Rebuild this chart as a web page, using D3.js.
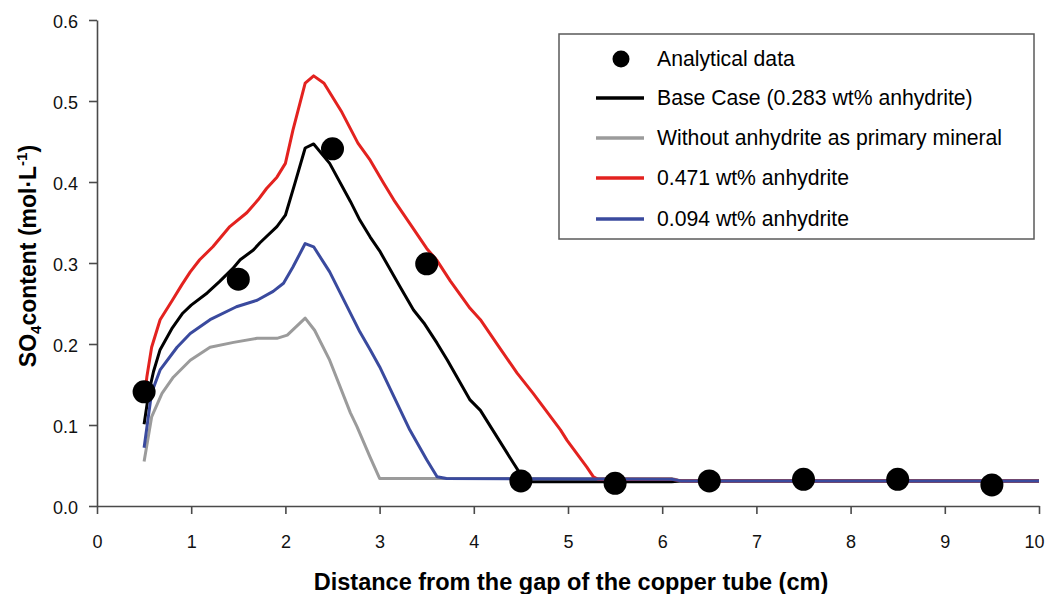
<!DOCTYPE html>
<html>
<head>
<meta charset="utf-8">
<script src="https://cdn.jsdelivr.net/npm/d3@7"></script>
<style>
  html, body { margin: 0; padding: 0; background: #fff; }
  svg { display: block; font-family: "Liberation Sans", Arial, sans-serif; }
</style>
</head>
<body>
<svg id="chart" width="1048" height="594"></svg>
<script>
// Measured SO4 concentrations along the copper tube
const dataX = [0.5, 1.5, 2.5, 3.5, 4.5, 5.5, 6.5, 7.5, 8.5, 9.5];
const dataY = [0.141, 0.280, 0.441, 0.299, 0.031, 0.028, 0.031, 0.033, 0.033, 0.026];

// Simulated profiles
const baseX = [0.5, 0.55, 0.6, 0.67, 0.8, 0.91, 1.0, 1.17, 1.3, 1.44, 1.52, 1.66, 1.73, 1.91, 2.0, 2.1, 2.21, 2.3, 2.47, 2.69, 2.79, 2.9, 3.0, 3.22, 3.36, 3.47, 3.61, 3.72, 3.96, 4.07, 4.42, 4.47, 4.52, 6.1, 6.2, 10];
const baseY = [0.101, 0.140, 0.166, 0.193, 0.220, 0.238, 0.248, 0.263, 0.277, 0.293, 0.304, 0.316, 0.325, 0.345, 0.359, 0.398, 0.442, 0.447, 0.423, 0.376, 0.353, 0.332, 0.315, 0.270, 0.242, 0.226, 0.201, 0.180, 0.131, 0.118, 0.053, 0.044, 0.030, 0.030, 0.031, 0.031];

const noAnhX = [0.5, 0.58, 0.69, 0.81, 0.99, 1.2, 1.45, 1.7, 1.91, 2.02, 2.21, 2.31, 2.47, 2.69, 2.76, 2.9, 3.0, 6.1, 6.2, 10];
const noAnhY = [0.055, 0.110, 0.139, 0.159, 0.180, 0.196, 0.202, 0.207, 0.207, 0.211, 0.232, 0.217, 0.180, 0.115, 0.098, 0.060, 0.034, 0.034, 0.031, 0.031];

const highX = [0.5, 0.53, 0.58, 0.67, 0.8, 0.9, 0.99, 1.09, 1.23, 1.41, 1.59, 1.71, 1.8, 1.91, 2.0, 2.08, 2.21, 2.3, 2.41, 2.6, 2.77, 2.9, 3.04, 3.15, 3.32, 3.5, 3.61, 3.75, 3.96, 4.07, 4.24, 4.46, 4.63, 4.92, 4.99, 5.2, 5.27, 5.32, 6.1, 6.2, 10];
const highY = [0.130, 0.160, 0.196, 0.230, 0.254, 0.273, 0.289, 0.304, 0.320, 0.345, 0.362, 0.378, 0.392, 0.406, 0.423, 0.464, 0.522, 0.531, 0.522, 0.486, 0.448, 0.427, 0.399, 0.378, 0.349, 0.318, 0.303, 0.278, 0.244, 0.230, 0.201, 0.164, 0.139, 0.094, 0.081, 0.048, 0.036, 0.033, 0.033, 0.031, 0.031];

const lowX = [0.5, 0.58, 0.67, 0.85, 0.99, 1.2, 1.48, 1.7, 1.87, 1.98, 2.08, 2.21, 2.3, 2.47, 2.79, 2.9, 3.0, 3.32, 3.5, 3.61, 3.71, 6.1, 6.2, 10];
const lowY = [0.072, 0.140, 0.168, 0.196, 0.213, 0.230, 0.246, 0.254, 0.265, 0.275, 0.295, 0.324, 0.320, 0.289, 0.215, 0.193, 0.172, 0.094, 0.057, 0.036, 0.034, 0.033, 0.031, 0.031];

const xTicks = [0, 1, 2, 3, 4, 5, 6, 7, 8, 9, 10];
const yTicks = [0.0, 0.1, 0.2, 0.3, 0.4, 0.5, 0.6];

const seriesNames = [
  "Base Case (0.283 wt% anhydrite)",
  "Without anhydrite as primary mineral",
  "0.471 wt% anhydrite",
  "0.094 wt% anhydrite"
];
const pointsName = "Analytical data";

const svg = d3.select("#chart");
const x = d3.scaleLinear().domain([0, 10]).range([97, 1039]);
const y = d3.scaleLinear().domain([0, 0.6]).range([506, 20]);

const axisColor = "#4a4a4a";

// Axes
const gx = svg.append("g")
  .attr("transform", `translate(0,${y(0)})`)
  .call(d3.axisBottom(x).tickValues(xTicks).tickFormat(d3.format("d"))
    .tickSize(8).tickSizeOuter(0).tickPadding(21));
const gy = svg.append("g")
  .attr("transform", `translate(${x(0)},0)`)
  .call(d3.axisLeft(y).tickValues(yTicks).tickFormat(d3.format(".1f"))
    .tickSize(8).tickSizeOuter(0).tickPadding(11));

[gx, gy].forEach(g => {
  g.select(".domain").attr("stroke", axisColor).attr("stroke-width", 1.6);
  g.selectAll(".tick line").attr("stroke", axisColor).attr("stroke-width", 1.6);
  g.selectAll(".tick text").attr("fill", "#111").style("font-size", "18px")
    .style("font-family", "'Liberation Sans', Arial, sans-serif");
});
gy.selectAll(".tick text").attr("dy", "0.42em");
// keep the last x label inside the page edge
gx.selectAll(".tick text").filter(d => d === 10).attr("x", -5);

// Simulated lines (blue drawn last so it sits on top of the shared tail)
const lineGen = d3.line().x(d => x(d[0])).y(d => y(d[1]));
const lines = [
  { xs: noAnhX, ys: noAnhY, color: "#9b9b9b" },
  { xs: baseX, ys: baseY, color: "#000000" },
  { xs: highX, ys: highY, color: "#e3221f" },
  { xs: lowX, ys: lowY, color: "#3a4a9e" }
];
lines.forEach(s => {
  svg.append("path")
    .datum(s.xs.map((v, i) => [v, s.ys[i]]))
    .attr("fill", "none")
    .attr("stroke", s.color)
    .attr("stroke-width", 3)
    .attr("stroke-linejoin", "round")
    .attr("d", lineGen);
});

// Analytical points
svg.append("g").selectAll("circle")
  .data(dataX.map((v, i) => [v, dataY[i]]))
  .join("circle")
  .attr("cx", d => x(d[0]))
  .attr("cy", d => y(d[1]))
  .attr("r", 11.5)
  .attr("fill", "#000");

// Axis titles
svg.append("text")
  .attr("x", 571).attr("y", 590)
  .attr("text-anchor", "middle")
  .style("font-size", "23.5px").style("font-weight", "bold")
  .text("Distance from the gap of the copper tube (cm)");

const yTitle = svg.append("text")
  .attr("transform", "translate(36,256) rotate(-90)")
  .attr("text-anchor", "middle")
  .style("font-size", "23px").style("font-weight", "bold");
yTitle.append("tspan").text("SO");
yTitle.append("tspan").attr("dy", 5).style("font-size", "15px").text("4");
yTitle.append("tspan").attr("dy", -5).text("content (mol·L");
yTitle.append("tspan").attr("dy", -9).style("font-size", "15px").text("-1");
yTitle.append("tspan").attr("dy", 9).text(")");

// Legend
const legend = svg.append("g");
legend.append("rect")
  .attr("x", 559).attr("y", 34).attr("width", 475).attr("height", 205)
  .attr("fill", "#fff").attr("stroke", "#5a5a5a").attr("stroke-width", 1.5);

const rowY = [59, 98, 138, 178, 219];
legend.append("circle").attr("cx", 621).attr("cy", rowY[0]).attr("r", 8.5).attr("fill", "#000");
legend.append("text").attr("x", 657).attr("y", rowY[0]).attr("dy", "0.35em")
  .style("font-size", "21.2px").text(pointsName);

const legendColors = ["#000000", "#9b9b9b", "#e3221f", "#3a4a9e"];
seriesNames.forEach((name, i) => {
  const ry = rowY[i + 1];
  legend.append("line")
    .attr("x1", 596).attr("x2", 644).attr("y1", ry).attr("y2", ry)
    .attr("stroke", legendColors[i]).attr("stroke-width", 3.5);
  legend.append("text").attr("x", 657).attr("y", ry).attr("dy", "0.35em")
    .style("font-size", "21.2px").text(name);
});
</script>
</body>
</html>
